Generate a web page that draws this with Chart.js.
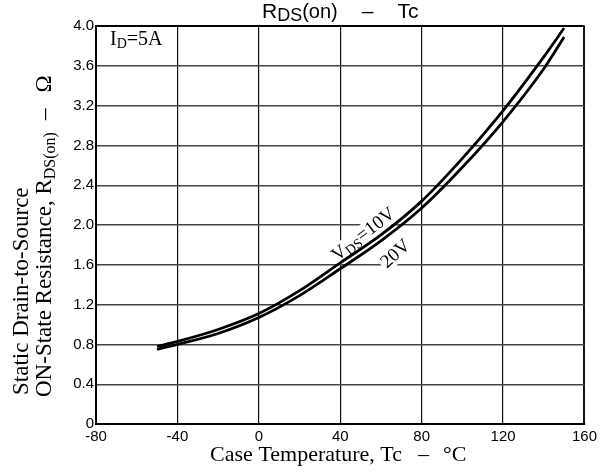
<!DOCTYPE html>
<html>
<head>
<meta charset="utf-8">
<script src="https://cdn.jsdelivr.net/npm/chart.js@4.4.0/dist/chart.umd.min.js"></script>
<style>
  html, body { margin: 0; padding: 0; background: #fff; }
  canvas { display: block; }
</style>
</head>
<body>
<canvas id="myChart" width="601" height="474"></canvas>
<script>
// values (Tc in degC, Rds(on) in ohm)
const temps = [-50, -40, -20, 0, 20, 40, 60, 80, 100, 120, 140, 150];
const rds10V = [0.78, 0.83, 0.95, 1.11, 1.34, 1.62, 1.90, 2.24, 2.67, 3.15, 3.69, 3.98];
const rds20V = [0.75, 0.80, 0.91, 1.07, 1.29, 1.56, 1.84, 2.17, 2.58, 3.04, 3.57, 3.89];
const xTicks = [-80, -40, 0, 40, 80, 120, 160];
const yTicks = [0, 0.4, 0.8, 1.2, 1.6, 2.0, 2.4, 2.8, 3.2, 3.6, 4.0];

const SANS = '"Liberation Sans", Arial, sans-serif';
const SERIF = '"Liberation Serif", "Times New Roman", serif';

// draw a run of text pieces (for subscripts), returns total width
function drawParts(ctx, parts, x, y, measureOnly) {
  let cx = x;
  parts.forEach(p => {
    ctx.font = p.size + 'px ' + p.family;
    cx += p.gap || 0;
    if (!measureOnly) ctx.fillText(p.text, cx, y + (p.dy || 0));
    cx += ctx.measureText(p.text).width;
  });
  return cx - x;
}

const titleParts = [
  { text: 'R', size: 21, family: SANS },
  { text: 'DS', size: 18, family: SANS, dy: 3 },
  { text: '(on)', size: 20, family: SANS },
  { text: '–', size: 21, family: SANS, gap: 24 },
  { text: 'Tc', size: 21, family: SANS, gap: 24 }
];
const yTitle1 = [{ text: 'Static Drain-to-Source', size: 23, family: SERIF }];
const yTitle2 = [
  { text: 'ON-State Resistance, R', size: 23, family: SERIF },
  { text: 'DS(on)', size: 16, family: SERIF, dy: 4 },
  { text: '–', size: 23, family: SERIF, gap: 12 },
  { text: 'Ω', size: 23, family: SERIF, gap: 16 }
];
const xTitle = [
  { text: 'Case Temperature, Tc', size: 22, family: SERIF },
  { text: '–', size: 22, family: SERIF, gap: 16 },
  { text: '°C', size: 22, family: SERIF, gap: 14 }
];
const idLabel = [
  { text: 'I', size: 20, family: SERIF },
  { text: 'D', size: 14, family: SERIF, dy: 3 },
  { text: '=5A', size: 20, family: SERIF }
];
// curve labels: anchored at a data position, rotated
const curveLabels = [
  { at: [38.5, 1.63], angle: -38, parts: [
    { text: 'V', size: 19, family: SERIF },
    { text: 'DS', size: 14, family: SERIF, dy: 3 },
    { text: '=10V', size: 19, family: SERIF }
  ] },
  { at: [63, 1.56], angle: -42, parts: [
    { text: '20V', size: 19, family: SERIF }
  ] }
];

const textPlugin = {
  id: 'texts',
  beforeDatasetsDraw(chart) {
    const ctx = chart.ctx;
    const xs = chart.scales.x, ys = chart.scales.y;
    ctx.save();
    ctx.fillStyle = '#fff';
    curveLabels.forEach(l => {
      const w = drawParts(ctx, l.parts, 0, 0, true);
      ctx.save();
      ctx.translate(xs.getPixelForValue(l.at[0]), ys.getPixelForValue(l.at[1]));
      ctx.rotate(l.angle * Math.PI / 180);
      ctx.fillRect(-2, -15, w + 4, 19);
      ctx.restore();
    });
    ctx.restore();
  },
  afterDraw(chart) {
    const ctx = chart.ctx;
    const area = chart.chartArea;
    const xs = chart.scales.x, ys = chart.scales.y;
    ctx.save();
    ctx.fillStyle = '#000';
    ctx.textBaseline = 'alphabetic';
    ctx.textAlign = 'left';

    const cx = (area.left + area.right) / 2;
    let w = drawParts(ctx, titleParts, 0, 0, true);
    drawParts(ctx, titleParts, cx - w / 2, 18);

    w = drawParts(ctx, xTitle, 0, 0, true);
    drawParts(ctx, xTitle, cx - w / 2 - 2, 461);

    drawParts(ctx, idLabel, area.left + 14, 45);

    ctx.save();
    ctx.translate(28, 395);
    ctx.rotate(-Math.PI / 2);
    drawParts(ctx, yTitle1, 0, 0);
    ctx.restore();

    ctx.save();
    ctx.translate(51, 397);
    ctx.rotate(-Math.PI / 2);
    drawParts(ctx, yTitle2, 0, 0);
    ctx.restore();

    curveLabels.forEach(l => {
      ctx.save();
      ctx.translate(xs.getPixelForValue(l.at[0]), ys.getPixelForValue(l.at[1]));
      ctx.rotate(l.angle * Math.PI / 180);
      drawParts(ctx, l.parts, 0, 0);
      ctx.restore();
    });
    ctx.restore();
  }
};

const ctx = document.getElementById('myChart').getContext('2d');

const chart = new Chart(ctx, {
  type: 'line',
  data: {
    datasets: [
      {
        label: 'VDS=10V',
        data: temps.map((t, i) => ({ x: t, y: rds10V[i] })),
        borderColor: '#000',
        borderWidth: 2.8,
        pointRadius: 0,
        fill: false,
        cubicInterpolationMode: 'monotone'
      },
      {
        label: '20V',
        data: temps.map((t, i) => ({ x: t, y: rds20V[i] })),
        borderColor: '#000',
        borderWidth: 2.8,
        pointRadius: 0,
        fill: false,
        cubicInterpolationMode: 'monotone'
      }
    ]
  },
  options: {
    responsive: false,
    animation: false,
    layout: { padding: { top: 26, right: 15, left: 0, bottom: 0 } },
    plugins: {
      legend: { display: false },
      tooltip: { enabled: false },
      title: { display: false }
    },
    scales: {
      x: {
        type: 'linear',
        min: -80,
        max: 160,
        afterBuildTicks: axis => { axis.ticks = xTicks.map(v => ({ value: v })); },
        afterFit: axis => { axis.height = 50; },
        ticks: {
          color: '#000',
          font: { family: SANS, size: 15 },
          padding: 4,
          maxRotation: 0,
          autoSkip: false,
          callback: v => String(v)
        },
        grid: {
          color: '#111',
          lineWidth: c => (c.tick && c.tick.value === 160 ? 2 : 1.2),
          drawTicks: false
        },
        border: { color: '#000', width: 2 }
      },
      y: {
        min: 0,
        max: 4,
        afterBuildTicks: axis => { axis.ticks = yTicks.map(v => ({ value: v })); },
        afterFit: axis => { axis.width = 96; },
        ticks: {
          color: '#000',
          font: { family: SANS, size: 15 },
          padding: 2,
          callback: v => (v === 0 ? '0' : v.toFixed(1))
        },
        grid: {
          color: c => (c.tick && c.tick.value === 4 ? '#000' : '#444'),
          lineWidth: c => (c.tick && c.tick.value === 4 ? 2 : 1.4),
          drawTicks: false
        },
        border: { color: '#000', width: 2 }
      }
    }
  },
  plugins: [textPlugin]
});
</script>
</body>
</html>
